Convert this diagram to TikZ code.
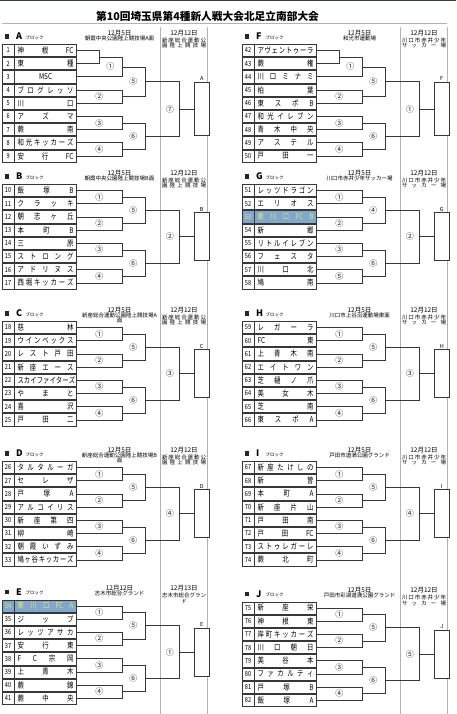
\documentclass[tikz,border=0pt]{standalone}
\usepackage{fontspec}
\setmainfont{Noto Sans CJK JP}
\newfontfamily\teamfont[FakeStretch=0.8]{Noto Sans CJK JP}
\usetikzlibrary{positioning, calc}

\definecolor{lnc}{RGB}{55,55,55}
\definecolor{topc}{RGB}{50,70,50}
\definecolor{hlfill}{RGB}{128,168,204}
\definecolor{hltext}{RGB}{236,226,110}

\tikzset{
  % --- Title ------------------------------------------------
  ttl/.style={font=\bfseries\fontsize{10.7}{11}\selectfont, inner sep=0pt},
  topl/.style={draw=topc, line width=1.2pt},
  rulel/.style={draw=gray!60, line width=1.3pt},
  divline/.style={draw=gray!60, line width=0.6pt},
  % --- Block head / venue -----------------------------------
  blksq/.style={fill=black!85, minimum size=4.5pt, inner sep=0pt},
  blkl/.style={font=\bfseries\fontsize{9}{9}\selectfont, inner sep=0pt},
  blksub/.style={font=\fontsize{4.5}{4.5}\selectfont, inner sep=0pt},
  datelab/.style={font=\fontsize{6.5}{6.5}\selectfont, inner sep=0pt},
  venue/.style={font=\fontsize{5.5}{5.6}\selectfont, inner sep=0pt, align=center},
  % --- Teams ------------------------------------------------
  numcell/.style={draw=lnc, line width=0.7pt, fill=white, minimum width=11.5pt,
    minimum height=12.2pt, inner sep=0pt, font=\teamfont\fontsize{7}{7}\selectfont},
  namecell/.style={draw=lnc, line width=0.7pt, fill=white, minimum width=62pt,
    minimum height=12.2pt, inner xsep=3pt, inner ysep=0pt,
    font=\teamfont\fontsize{8}{8}\selectfont},
  tm/.style={},
  tmhl/.style={fill=hlfill, text=hltext},
  % --- Bracket ----------------------------------------------
  brk/.style={draw=lnc, line width=0.7pt},
  mlab/.style={font=\fontsize{8}{8}\selectfont, inner sep=0pt, text=black!85},
  finalbox/.style={draw=lnc, line width=0.7pt, fill=white, minimum width=15pt,
    minimum height=48pt, inner sep=0pt},
  boxlab/.style={font=\fontsize{5.5}{5.5}\selectfont, inner sep=1pt}
}

\newcommand{\niiza}{\hbox to 44pt{新\hfill 座\hfill 総\hfill 合\hfill 運\hfill 動\hfill 公}\\
  \hbox to 44pt{園\hfill 陸\hfill 上\hfill 競\hfill 技\hfill 場}}
\newcommand{\akai}{\hbox to 44pt{川\hfill 口\hfill 市\hfill 赤\hfill 井\hfill 少\hfill 年}\\
  \hbox to 44pt{サ\hfill ッ\hfill カ\hfill ー\hfill 場}}

% #1 prefix, #2 x, #3 top of first row, #4 letter
\newcommand{\blockhead}[4]{%
  \node[blksq] (#1sq) at ({#2+5},{#3-7.5}) {};
  \node[blkl, anchor=west] (#1hd) at ({#2+14},{#3-7.5}) {#4};
  \node[blksub, anchor=west] (#1hs) at ({#2+23.5},{#3-6.5}) {ブロック};
}

% #1 prefix, #2 x, #3 top of first row, #4-#7 dates and venues
\newcommand{\venues}[7]{%
  \node[datelab] (#1d1) at ({#2+117.5},{#3-11}) {#4};
  \node[venue, anchor=north] (#1v1) at ({#2+117.5},{#3-8.5}) {#5};
  \node[datelab] (#1d2) at ({#2+182},{#3-11}) {#6};
  \node[venue, anchor=north] (#1v2) at ({#2+182},{#3-6.5}) {#7};
}

% #1 prefix, #2 x, #3 top of first row, #4 first number, #5 style/name list
\newcommand{\teamlist}[5]{%
  \foreach \st/\nm [count=\i] in {#5}{%
    \pgfmathtruncatemacro{\tno}{#4+\i-1}
    \node[numcell, tm\st, anchor=north west] (#1\i n) at ({#2},{#3+(\i-1)*13.2}) {\tno};
    \node[namecell, tm\st, right=0pt of #1\i n] (#1\i) {\hbox to 56pt{\nm}};
  }%
}

% eight teams: #1 prefix, #2-#7 match labels, #8 final label, #9 box letter
\newcommand{\bracketeight}[9]{%
  \coordinate (#1m1) at ($(#11.east)!0.5!(#12.east)+(45,0)$);
  \coordinate (#1m2) at ($(#13.east)!0.5!(#14.east)+(45,0)$);
  \coordinate (#1m3) at ($(#15.east)!0.5!(#16.east)+(45,0)$);
  \coordinate (#1m4) at ($(#17.east)!0.5!(#18.east)+(45,0)$);
  \coordinate (#1m5) at ($(#1m1)!0.5!(#1m2)+(23,0)$);
  \coordinate (#1m6) at ($(#1m3)!0.5!(#1m4)+(23,0)$);
  \coordinate (#1f) at ($(#1m5)!0.5!(#1m6)+(34,0)$);
  \node[finalbox, right=15pt of #1f] (#1box) {};
  \node[boxlab, above=0pt of #1box] (#1boxl) {#9};
  \draw[brk] (#11.east) -| (#1m1) (#12.east) -| (#1m1)
             (#13.east) -| (#1m2) (#14.east) -| (#1m2)
             (#15.east) -| (#1m3) (#16.east) -| (#1m3)
             (#17.east) -| (#1m4) (#18.east) -| (#1m4)
             (#1m1) -| (#1m5) (#1m2) -| (#1m5)
             (#1m3) -| (#1m6) (#1m4) -| (#1m6)
             (#1m5) -| (#1f) (#1m6) -| (#1f)
             (#1f) -- (#1box.west);
  \node[mlab] (#1l1) at ($(#1m1)+(-22.5,0)$) {#2};
  \node[mlab] (#1l2) at ($(#1m2)+(-22.5,0)$) {#3};
  \node[mlab] (#1l3) at ($(#1m3)+(-22.5,0)$) {#4};
  \node[mlab] (#1l4) at ($(#1m4)+(-22.5,0)$) {#5};
  \node[mlab] (#1l5) at ($(#1m5)+(-11.5,0)$) {#6};
  \node[mlab] (#1l6) at ($(#1m6)+(-11.5,0)$) {#7};
  \node[mlab] (#1lf) at ($(#1f)+(-9,0)$) {#8};
}

% nine teams (1 and 2 meet first)
\newcommand{\bracketnine}[9]{%
  \coordinate (#1p) at ($(#11.east)!0.5!(#12.east)+(22,0)$);
  \coordinate (#1m1) at ($(#1p |- #13.east)!0.5!(#1p)+(23,0)$);
  \coordinate (#1m2) at ($(#14.east)!0.5!(#15.east)+(45,0)$);
  \coordinate (#1m3) at ($(#16.east)!0.5!(#17.east)+(45,0)$);
  \coordinate (#1m4) at ($(#18.east)!0.5!(#19.east)+(45,0)$);
  \coordinate (#1m5) at ($(#1m1)!0.5!(#1m2)+(23,0)$);
  \coordinate (#1m6) at ($(#1m3)!0.5!(#1m4)+(23,0)$);
  \coordinate (#1f) at ($(#1m5)!0.5!(#1m6)+(34,0)$);
  \node[finalbox, minimum height=53pt, right=15pt of #1f] (#1box) {};
  \node[boxlab, above=0pt of #1box] (#1boxl) {#9};
  \draw[brk] (#11.east) -| (#1p) (#12.east) -| (#1p)
             (#1p) -| (#1m1) (#13.east) -| (#1m1)
             (#14.east) -| (#1m2) (#15.east) -| (#1m2)
             (#16.east) -| (#1m3) (#17.east) -| (#1m3)
             (#18.east) -| (#1m4) (#19.east) -| (#1m4)
             (#1m1) -| (#1m5) (#1m2) -| (#1m5)
             (#1m3) -| (#1m6) (#1m4) -| (#1m6)
             (#1m5) -| (#1f) (#1m6) -| (#1f)
             (#1f) -- (#1box.west);
  \node[mlab] (#1l1) at ($(#1m1)+(-11.5,0)$) {#2};
  \node[mlab] (#1l2) at ($(#1m2)+(-22.5,0)$) {#3};
  \node[mlab] (#1l3) at ($(#1m3)+(-22.5,0)$) {#4};
  \node[mlab] (#1l4) at ($(#1m4)+(-22.5,0)$) {#5};
  \node[mlab] (#1l5) at ($(#1m5)+(-11.5,0)$) {#6};
  \node[mlab] (#1l6) at ($(#1m6)+(-11.5,0)$) {#7};
  \node[mlab] (#1lf) at ($(#1f)+(-9,0)$) {#8};
}

\begin{document}
\begin{tikzpicture}[x=1pt, y=-1pt]
  \useasboundingbox (0,0) rectangle (456,714);
  \fill[white] (0,0) rectangle (456,714);

  % --- Title ------------------------------------------------
  \draw[topl] (0,0.8) -- (456,0.8);
  \node[ttl] (T) at (207.5,16) {第10回埼玉県第4種新人戦大会北足立南部大会};
  \draw[rulel] (2,23.5) -- (447,23.5);

  % --- Round dividers ---------------------------------------
  \draw[divline] (160.5,27) -- (160.5,714);
  \draw[divline] (207.5,27) -- (207.5,714);
  \draw[divline] (400.5,27) -- (400.5,714);
  \draw[divline] (447.5,27) -- (447.5,714);

  % --- A block ----------------------------------------------
  \blockhead{A}{2}{44}{A}
  \venues{A}{2}{44}{12月5日}{朝霞中央公園陸上競技場A面}{12月12日}{\niiza}
  \teamlist{A}{2}{44}{1}{/神\hfill 根\hfill FC, /東\hfill 種, /\hfil MSC\hfil,
    /ブ\hfill ロ\hfill グ\hfill レ\hfill ッ\hfill ソ, /川\hfill 口, /ア\hfill ズ\hfill マ,
    /蕨\hfill 南, /和\hfill 光\hfill キ\hfill ッ\hfill カ\hfill ー\hfill ズ, /安\hfill 行\hfill FC}
  \bracketnine{A}{①}{②}{③}{④}{⑤}{⑥}{⑦}{A}

  % --- B block ----------------------------------------------
  \blockhead{B}{2}{184}{B}
  \venues{B}{2}{184}{12月5日}{朝霞中央公園陸上競技場B面}{12月12日}{\niiza}
  \teamlist{B}{2}{184}{10}{/飯\hfill 塚\hfill B, /ク\hfill ラ\hfill ッ\hfill キ,
    /朝\hfill 志\hfill ヶ\hfill 丘, /本\hfill 町\hfill B, /三\hfill 原,
    /ス\hfill ト\hfill ロ\hfill ン\hfill グ, /ア\hfill ド\hfill リ\hfill ヌ\hfill ス,
    /西\hfill 堀\hfill キ\hfill ッ\hfill カ\hfill ー\hfill ズ}
  \bracketeight{B}{①}{②}{③}{④}{⑤}{⑥}{②}{B}

  % --- C block ----------------------------------------------
  \blockhead{C}{2}{321}{C}
  \venues{C}{2}{321}{12月5日}{新座総合運動公園陸上競技場A\\面}{12月12日}{\niiza}
  \teamlist{C}{2}{321}{18}{/慈\hfill 林, /ウ\hfill イ\hfill ン\hfill ベ\hfill ッ\hfill ク\hfill ス,
    /レ\hfill ス\hfill ト\hfill 戸\hfill 田, /新\hfill 座\hfill エ\hfill ー\hfill ス,
    /ス\hfill カ\hfill イ\hfill フ\hfill ァ\hfill イ\hfill タ\hfill ー\hfill ズ,
    /や\hfill ま\hfill と, /喜\hfill 沢, /戸\hfill 田\hfill 二}
  \bracketeight{C}{①}{②}{③}{④}{⑤}{⑥}{③}{C}

  % --- D block ----------------------------------------------
  \blockhead{D}{2}{461}{D}
  \venues{D}{2}{461}{12月5日}{新座総合運動公園陸上競技場B\\面}{12月12日}{\niiza}
  \teamlist{D}{2}{461}{26}{/タ\hfill ル\hfill タ\hfill ル\hfill ー\hfill ガ, /セ\hfill レ\hfill ザ,
    /戸\hfill 塚\hfill A, /ア\hfill ル\hfill コ\hfill イ\hfill リ\hfill ス,
    /新\hfill 座\hfill 第\hfill 四, /柳\hfill 崎, /朝\hfill 霞\hfill い\hfill ず\hfill み,
    /鳩\hfill ヶ\hfill 谷\hfill キ\hfill ッ\hfill カ\hfill ー\hfill ズ}
  \bracketeight{D}{①}{②}{③}{④}{⑤}{⑥}{④}{D}

  % --- E block ----------------------------------------------
  \blockhead{E}{2}{599.5}{E}
  \venues{E}{2}{599.5}{12月12日}{志木市総合グランド}{12月13日}{志木市総合グラン\\ド}
  \teamlist{E}{2}{599.5}{34}{hl/東\hfill 川\hfill 口\hfill FC\hfill A, /ジ\hfill ッ\hfill プ,
    /レ\hfill ッ\hfill ツ\hfill ア\hfill サ\hfill カ, /安\hfill 行\hfill 東,
    /F\hfill C\hfill 宗\hfill 岡, /上\hfill 青\hfill 木, /蕨\hfill 錦, /蕨\hfill 中\hfill 央}
  \bracketeight{E}{①}{②}{③}{④}{⑤}{⑥}{①}{E}

  % --- F block ----------------------------------------------
  \blockhead{F}{242}{44}{F}
  \venues{F}{242}{44}{12月5日}{和光市運動場}{12月12日}{\akai}
  \teamlist{F}{242}{44}{42}{/ア\hfill ヴ\hfill ェ\hfill ン\hfill ト\hfill ゥ\hfill ー\hfill ラ,
    /蕨\hfill 権, /川\hfill 口\hfill ミ\hfill ナ\hfill ミ, /柏\hfill 葉, /東\hfill ス\hfill ポ\hfill B,
    /和\hfill 光\hfill イ\hfill レ\hfill ブ\hfill ン, /青\hfill 木\hfill 中\hfill 央,
    /ア\hfill ス\hfill テ\hfill ル, /戸\hfill 田\hfill 一}
  \bracketnine{F}{①}{②}{③}{④}{⑤}{⑥}{①}{F}

  % --- G block ----------------------------------------------
  \blockhead{G}{242}{184}{G}
  \venues{G}{242}{184}{12月5日}{川口市赤井少年サッカー場}{12月12日}{\akai}
  \teamlist{G}{242}{184}{51}{/レ\hfill ッ\hfill ツ\hfill ド\hfill ラ\hfill ゴ\hfill ン,
    /エ\hfill リ\hfill オ\hfill ス, hl/東\hfill 川\hfill 口\hfill FC\hfill B, /新\hfill 郷,
    /リ\hfill ト\hfill ル\hfill イ\hfill レ\hfill ブ\hfill ン, /フ\hfill ェ\hfill ス\hfill タ,
    /川\hfill 口\hfill 北, /鳩\hfill 南}
  \bracketeight{G}{①}{②}{③}{⑤}{④}{⑥}{②}{G}

  % --- H block ----------------------------------------------
  \blockhead{H}{242}{321}{H}
  \venues{H}{242}{321}{12月5日}{川口市上谷沼運動場東面}{12月12日}{\akai}
  \teamlist{H}{242}{321}{59}{/レ\hfill ガ\hfill ー\hfill ラ, /FC\hfill 東,
    /上\hfill 青\hfill 木\hfill 南, /エ\hfill イ\hfill ト\hfill ワ\hfill ン,
    /芝\hfill 樋\hfill ノ\hfill 爪, /美\hfill 女\hfill 木, /芝\hfill 南, /東\hfill ス\hfill ポ\hfill A}
  \bracketeight{H}{①}{②}{③}{④}{⑤}{⑥}{③}{H}

  % --- I block ----------------------------------------------
  \blockhead{I}{242}{461}{I}
  \venues{I}{242}{461}{12月5日}{戸田市道満公園グランド}{12月12日}{\akai}
  \teamlist{I}{242}{461}{67}{/新\hfill 座\hfill た\hfill け\hfill し\hfill の, /新\hfill 曽,
    /本\hfill 町\hfill A, /新\hfill 座\hfill 片\hfill 山, /戸\hfill 田\hfill 南, /戸\hfill 田\hfill FC,
    /ス\hfill ト\hfill ゥ\hfill レ\hfill ガ\hfill ー\hfill レ, /蕨\hfill 北\hfill 町}
  \bracketeight{I}{①}{②}{③}{④}{⑤}{⑥}{④}{I}

  % --- J block ----------------------------------------------
  \blockhead{J}{242}{601.5}{J}
  \venues{J}{242}{601.5}{12月5日}{戸田市彩湖道満公園グランド}{12月12日}{\akai}
  \teamlist{J}{242}{601.5}{75}{/新\hfill 座\hfill 栄, /神\hfill 根\hfill 東,
    /岸\hfill 町\hfill キ\hfill ッ\hfill カ\hfill ー\hfill ズ, /川\hfill 口\hfill 朝\hfill 日,
    /美\hfill 谷\hfill 本, /フ\hfill ァ\hfill カ\hfill ル\hfill テ\hfill ィ,
    /戸\hfill 塚\hfill B, /飯\hfill 塚\hfill A}
  \bracketeight{J}{①}{②}{③}{④}{⑤}{⑥}{⑤}{J}

\end{tikzpicture}
\end{document}
